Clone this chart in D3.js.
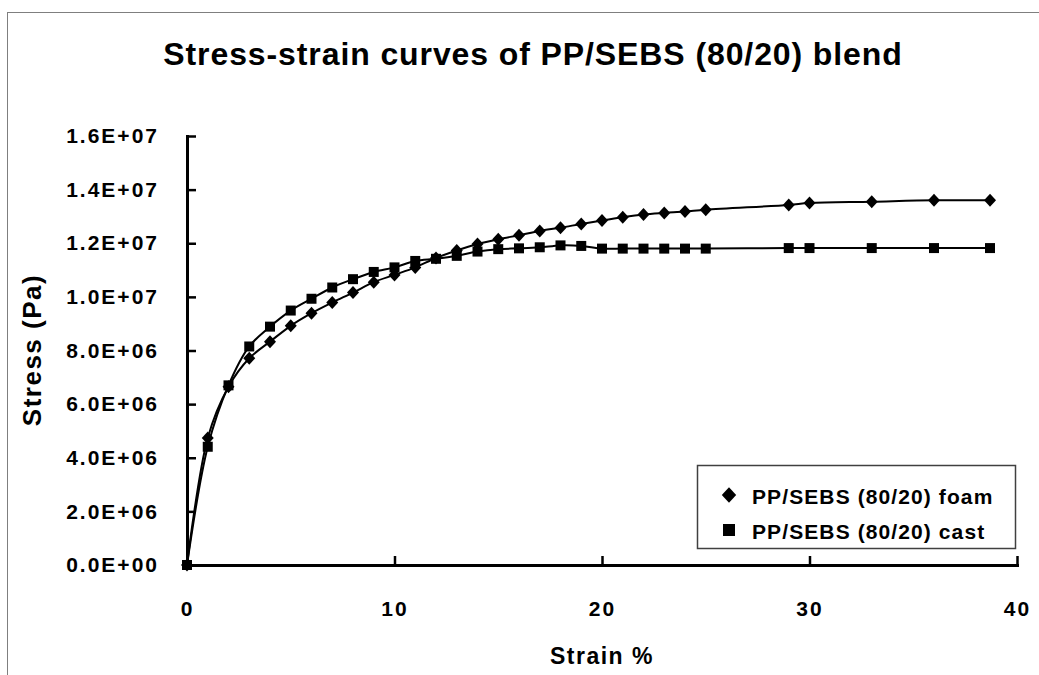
<!DOCTYPE html>
<html>
<head>
<meta charset="utf-8">
<script src="https://cdn.jsdelivr.net/npm/d3@7"></script>
<style>
  body { margin: 0; background: #ffffff; }
  text { font-family: "Liberation Sans", Arial, sans-serif; font-weight: bold; }
</style>
</head>
<body>
<div id="chart"></div>
<script>
// strain values (%) shared by both series
const strain = [0, 1, 2, 3, 4, 5, 6, 7, 8, 9, 10, 11, 12, 13, 14, 15, 16, 17, 18, 19,
                20, 21, 22, 23, 24, 25, 29, 30, 33, 36, 38.7];

// stress (Pa)
const foamStress = [0, 4.74e6, 6.65e6, 7.71e6, 8.33e6, 8.92e6, 9.39e6, 9.79e6, 10.16e6, 10.55e6,
                    10.82e6, 11.1e6, 11.45e6, 11.73e6, 11.97e6, 12.15e6, 12.3e6, 12.46e6, 12.58e6, 12.72e6,
                    12.85e6, 12.97e6, 13.07e6, 13.13e6, 13.18e6, 13.25e6, 13.43e6, 13.5e6, 13.55e6, 13.6e6, 13.6e6];

const castStress = [0, 4.41e6, 6.7e6, 8.15e6, 8.89e6, 9.49e6, 9.93e6, 10.35e6, 10.66e6, 10.93e6,
                    11.1e6, 11.34e6, 11.42e6, 11.53e6, 11.69e6, 11.78e6, 11.81e6, 11.85e6, 11.92e6, 11.9e6,
                    11.8e6, 11.8e6, 11.8e6, 11.8e6, 11.8e6, 11.8e6, 11.82e6, 11.82e6, 11.82e6, 11.82e6, 11.82e6];

const seriesNames = ['PP/SEBS (80/20) foam', 'PP/SEBS (80/20) cast'];
const xTicks = [0, 10, 20, 30, 40];
const yTicks = [0, 2e6, 4e6, 6e6, 8e6, 10e6, 12e6, 14e6, 16e6];

const width = 1039;
const height = 675;
const margin = { top: 136, right: 22, bottom: 110, left: 187 };

// excel style 1.6E+07
function sciFormat(v) {
  const parts = v.toExponential(1).split('e');
  const exp = parseInt(parts[1], 10);
  const sign = exp < 0 ? '-' : '+';
  return parts[0] + 'E' + sign + String(Math.abs(exp)).padStart(2, '0');
}

const svg = d3.select('#chart')
  .append('svg')
    .attr('width', width)
    .attr('height', height)
    .style('background-color', '#ffffff');

// outer chart frame
svg.append('rect')
  .attr('x', 7.5)
  .attr('y', 12.5)
  .attr('width', width + 20)
  .attr('height', height + 20)
  .attr('fill', 'none')
  .attr('stroke', '#7f7f7f')
  .attr('stroke-width', 1);

const x = d3.scaleLinear()
  .domain([0, 40])
  .range([margin.left, width - margin.right]);

const y = d3.scaleLinear()
  .domain([0, 16e6])
  .range([height - margin.bottom, margin.top]);

// title
svg.append('text')
  .attr('x', 533)
  .attr('y', 65)
  .attr('text-anchor', 'middle')
  .style('font-size', '32px')
  .style('letter-spacing', '0.9px')
  .text('Stress-strain curves of PP/SEBS (80/20) blend');

// axes
const xAxis = svg.append('g')
  .attr('transform', 'translate(0,' + y(0) + ')')
  .call(d3.axisBottom(x).tickValues(xTicks).tickSizeInner(-9).tickSizeOuter(0).tickPadding(36));

const yAxis = svg.append('g')
  .attr('transform', 'translate(' + x(0) + ',0)')
  .call(d3.axisLeft(y).tickValues(yTicks).tickFormat(sciFormat)
        .tickSizeInner(-9).tickSizeOuter(0).tickPadding(28));

[xAxis, yAxis].forEach(g => {
  g.attr('font-family', null).attr('font-size', null);
  g.select('.domain').attr('stroke-width', 3).attr('stroke-linecap', 'square');
  g.selectAll('.tick line').attr('stroke-width', 2.5);
  g.selectAll('.tick text')
    .style('font-size', '21px')
    .style('letter-spacing', '2px')
    .attr('fill', '#000000');
});

// axis titles
svg.append('text')
  .attr('x', 602)
  .attr('y', 664)
  .attr('text-anchor', 'middle')
  .style('font-size', '23px')
  .style('letter-spacing', '1.5px')
  .text('Strain %');

svg.append('text')
  .attr('transform', 'translate(41,350) rotate(-90)')
  .attr('text-anchor', 'middle')
  .style('font-size', '26px')
  .style('letter-spacing', '1.5px')
  .text('Stress (Pa)');

// series
const diamondPath = 'M0,-6.5L6,0L0,6.5L-6,0Z';
const squarePath = 'M-5,-5H5V5H-5Z';

const series = [
  { name: seriesNames[0], values: foamStress, marker: diamondPath },
  { name: seriesNames[1], values: castStress, marker: squarePath }
];

const line = d3.line()
  .x((d, i) => x(strain[i]))
  .y(d => y(d))
  .curve(d3.curveCatmullRom.alpha(0.5));

series.forEach(s => {
  svg.append('path')
    .datum(s.values)
    .attr('fill', 'none')
    .attr('stroke', '#000000')
    .attr('stroke-width', 2)
    .attr('d', line);

  svg.append('g')
    .selectAll('path')
    .data(s.values)
    .enter()
    .append('path')
      .attr('transform', (d, i) => 'translate(' + x(strain[i]) + ',' + y(d) + ')')
      .attr('d', s.marker)
      .attr('fill', '#000000');
});

// legend
const legend = svg.append('g')
  .attr('transform', 'translate(697,465)');

legend.append('rect')
  .attr('x', 0.5)
  .attr('y', 0.5)
  .attr('width', 318)
  .attr('height', 83)
  .attr('fill', '#ffffff')
  .attr('stroke', '#404040')
  .attr('stroke-width', 1.5);

const legendItems = legend.selectAll('.legend-item')
  .data(series)
  .enter()
  .append('g')
  .attr('class', 'legend-item')
  .attr('transform', (d, i) => 'translate(32,' + (30 + i * 35) + ')');

legendItems.append('path')
  .attr('d', d => d.marker)
  .attr('transform', 'scale(1.2)')
  .attr('fill', '#000000');

legendItems.append('text')
  .attr('x', 23)
  .attr('y', 9)
  .style('font-size', '21px')
  .style('letter-spacing', '1.1px')
  .text(d => d.name);
</script>
</body>
</html>
